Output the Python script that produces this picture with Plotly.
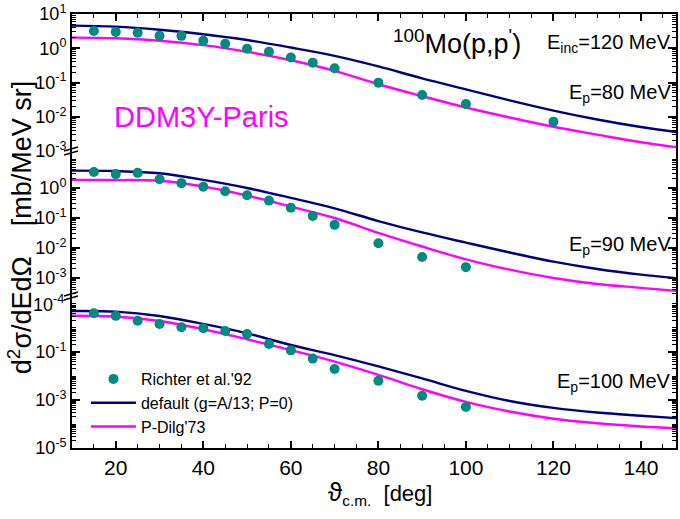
import numpy as np
import plotly.graph_objects as go

# ---------------- data ----------------
theta_curve = [10, 20, 30, 40, 50, 60, 70, 80, 90, 100, 110, 120, 130, 140, 150]

# E_p = 80 MeV
default_80 = [4.57, 4.27, 3.47, 2.57, 1.74, 1.05, 0.60, 0.295, 0.132, 0.063, 0.030, 0.0151, 0.0083, 0.0050, 0.0033]
dilg_80 = [2.04, 1.95, 1.66, 1.23, 0.79, 0.447, 0.219, 0.089, 0.040, 0.0186, 0.0095, 0.0051, 0.0030, 0.0018, 0.0012]
theta_exp_80 = [15, 20, 25, 30, 35, 40, 45, 50, 55, 60, 65, 70, 80, 90, 100, 120]
exp_80 = [3.2, 3.0, 2.85, 2.3, 2.3, 1.65, 1.35, 0.97, 0.79, 0.54, 0.38, 0.26, 0.099, 0.043, 0.0235, 0.0072]

# E_p = 90 MeV
default_90 = [3.80, 3.67, 3.09, 1.86, 1.0, 0.468, 0.209, 0.079, 0.033, 0.0151, 0.0071, 0.0035, 0.0020, 0.0013, 0.00093]
dilg_90 = [1.86, 1.84, 1.74, 1.12, 0.56, 0.24, 0.10, 0.032, 0.0112, 0.0042, 0.0019, 0.0010, 0.00063, 0.00047, 0.00035]
theta_exp_90 = [15, 20, 25, 30, 35, 40, 45, 50, 55, 60, 65, 70, 80, 90, 100]
exp_90 = [3.4, 2.9, 3.2, 1.95, 1.45, 1.1, 0.78, 0.57, 0.38, 0.22, 0.117, 0.059, 0.0144, 0.005, 0.0023]

# E_p = 100 MeV
default_100 = [5.1, 4.8, 3.16, 1.48, 0.60, 0.195, 0.074, 0.025, 0.0079, 0.0024, 0.00091, 0.00047, 0.00030, 0.00022, 0.000166]
dilg_100 = [3.24, 2.95, 1.95, 0.89, 0.34, 0.12, 0.040, 0.0112, 0.0028, 0.00083, 0.00033, 0.000166, 0.000107, 0.000079, 0.000063]
theta_exp_100 = [15, 20, 25, 30, 35, 40, 45, 50, 55, 60, 65, 70, 80, 90, 100]
exp_100 = [4.1, 3.2, 2.0, 1.47, 1.07, 0.98, 0.75, 0.56, 0.215, 0.117, 0.053, 0.0195, 0.0063, 0.0015, 0.00051]

# ---------------- styling ----------------
FONT = "Liberation Sans, Arial, sans-serif"
C_EXP = "#008b80"
C_DEF = "#000080"
C_DILG = "#ff00ff"
LW = 2.4

W, H = 680, 519
ML, MR, MT, MB = 72, 2, 14, 71
plot_w = W - ML - MR
plot_h = H - MT - MB


def frac(ypix):
    return (H - MB - ypix) / plot_h


def xfrac(xpix):
    return (xpix - ML) / plot_w


y_break1 = 151
y_break2 = 296
dom_top = [frac(y_break1), 1.0]
dom_mid = [frac(y_break2), frac(y_break1)]
dom_bot = [0.0, frac(y_break2)]

fig = go.Figure()

panels = [
    # (yaxis id, xaxis id, default, dilg, theta_exp, exp)
    ("y3", "x3", default_80, dilg_80, theta_exp_80, exp_80),
    ("y2", "x2", default_90, dilg_90, theta_exp_90, exp_90),
    ("y", "x", default_100, dilg_100, theta_exp_100, exp_100),
]

for ya, xa, dfl, dlg, tx, ex in panels:
    last = (ya == "y")
    fig.add_trace(go.Scatter(x=theta_curve, y=dfl, mode="lines", line=dict(color=C_DEF, width=LW, shape="spline"),
                             xaxis=xa, yaxis=ya, name="default (g=A/13; P=0)", legendgroup="def",
                             showlegend=last, legendrank=2))
    fig.add_trace(go.Scatter(x=theta_curve, y=dlg, mode="lines", line=dict(color=C_DILG, width=LW, shape="spline"),
                             xaxis=xa, yaxis=ya, name="P-Dilg'73", legendgroup="dilg",
                             showlegend=last, legendrank=3))
    fig.add_trace(go.Scatter(x=tx, y=ex, mode="markers", marker=dict(color=C_EXP, size=10),
                             xaxis=xa, yaxis=ya, name="Richter et al.'92", legendgroup="exp",
                             showlegend=last, legendrank=1))


def minor_vals(lo, hi):
    vals = []
    for d in range(int(np.floor(lo)), int(np.ceil(hi)) + 1):
        for m in range(2, 10):
            v = m * 10.0 ** d
            if lo <= np.log10(v) <= hi:
                vals.append(v)
    return vals


def yax(domain, rng, tickvals, ticktext, every_other=False):
    mv = minor_vals(rng[0], rng[1])
    if every_other:
        # unlabelled decades are drawn as minor ticks
        mv += [10.0 ** d for d in range(int(np.ceil(rng[0])), int(np.floor(rng[1])) + 1)
               if 10.0 ** d not in tickvals]
    return dict(
        type="log", domain=domain, range=rng, tickmode="array", tickvals=tickvals, ticktext=ticktext,
        showline=True, linecolor="black", linewidth=2, mirror="ticks", ticks="inside", ticklen=8,
        tickwidth=1.5, tickcolor="black", showgrid=False, zeroline=False,
        tickfont=dict(family=FONT, size=18, color="black"),
        minor=dict(tickmode="array", tickvals=mv, ticks="inside", ticklen=4, tickwidth=1, tickcolor="black",
                   showgrid=False),
    )


def sup(e):
    return "10<sup>%d</sup>" % e


x_ticks = [20, 40, 60, 80, 100, 120, 140]

fig.update_layout(
    width=W, height=H,
    margin=dict(l=ML, r=MR, t=MT, b=MB),
    paper_bgcolor="white", plot_bgcolor="white",
    font=dict(family=FONT, color="black"),
    showlegend=True,
    legend=dict(x=xfrac(86), y=frac(362), xanchor="left", yanchor="top", bgcolor="rgba(0,0,0,0)",
                font=dict(family=FONT, size=16, color="black"), tracegroupgap=0, itemwidth=45),
    yaxis3=yax(dom_top, [-3, 1], [10.0 ** e for e in range(-3, 2)], [sup(e) for e in range(-3, 2)]),
    yaxis2=yax(dom_mid, [-3.6, 1.233], [10.0 ** e for e in range(-3, 1)], [sup(e) for e in range(-3, 1)]),
    yaxis=yax(dom_bot, [-5, 1.333], [1e-5, 1e-3, 1e-1], [sup(-5), sup(-3), sup(-1)], every_other=True),
    xaxis=dict(range=[10, 148], anchor="y", showline=True, linecolor="black", linewidth=2, ticks="inside",
               ticklen=7, tickwidth=1.5, tickcolor="black", tickvals=x_ticks,
               tickfont=dict(family=FONT, size=21, color="black"), showgrid=False, zeroline=False,
               minor=dict(dtick=5, ticks="inside", ticklen=4, tickwidth=1, tickcolor="black", showgrid=False)),
    xaxis2=dict(range=[10, 148], anchor="y2", matches="x", visible=False),
    xaxis3=dict(range=[10, 148], anchor="y3", matches="x", side="top", showline=True, linecolor="black",
                linewidth=2, ticks="inside", ticklen=7, tickwidth=1.5, tickcolor="black",
                tickvals=x_ticks, showticklabels=False, showgrid=False, zeroline=False,
                minor=dict(dtick=5, ticks="inside", ticklen=4, tickwidth=1, tickcolor="black", showgrid=False)),
)

# axis breaks on the left frame
for yb in (y_break1, y_break2):
    for off in (-2, 2):
        fig.add_shape(type="line", xref="paper", yref="paper",
                      x0=-8 / plot_w, x1=6 / plot_w,
                      y0=frac(yb + off + 2), y1=frac(yb + off - 2),
                      line=dict(color="black", width=1.5))

# labels inside the panels
ann = [
    dict(x=xfrac(202), y=frac(117), text="DDM3Y-Paris", size=29, color=C_DILG, xanchor="center"),
    dict(x=xfrac(524), y=frac(42), text="<sup>100</sup>Mo(p,p<sup>'</sup>)", size=27, color="black", xanchor="right"),
    dict(x=0.995, y=frac(43), text="E<sub>inc</sub>=120 MeV", size=20, color="black", xanchor="right"),
    dict(x=0.995, y=frac(93), text="E<sub>p</sub>=80 MeV", size=20, color="black", xanchor="right"),
    dict(x=0.995, y=frac(245), text="E<sub>p</sub>=90 MeV", size=20, color="black", xanchor="right"),
    dict(x=0.995, y=frac(382), text="E<sub>p</sub>=100 MeV", size=20, color="black", xanchor="right"),
]
for a in ann:
    fig.add_annotation(x=a["x"], y=a["y"], xref="paper", yref="paper", text=a["text"], showarrow=False,
                       xanchor=a["xanchor"], yanchor="middle",
                       font=dict(family=FONT, size=a["size"], color=a["color"]))

# 10^-4 label at the lower break
fig.add_annotation(x=0, y=frac(303), xref="paper", yref="paper", text=sup(-4), showarrow=False,
                   xanchor="right", yanchor="middle", xshift=-6, font=dict(family=FONT, size=18, color="black"))

# axis titles
fig.add_annotation(x=xfrac(20), y=frac(228), xref="paper", yref="paper",
                   text="d<sup>2</sup>\u03c3/dEd\u03a9\u00a0\u00a0\u00a0\u00a0[mb/MeV sr]", showarrow=False,
                   textangle=-90, xanchor="center", yanchor="middle",
                   font=dict(family=FONT, size=27, color="black"))
fig.add_annotation(x=xfrac(381), y=frac(493), xref="paper", yref="paper",
                   text="<span style='font-size:26px'>\u03d1</span><sub>c.m.</sub>  [deg]", showarrow=False,
                   xanchor="center", yanchor="middle", font=dict(family=FONT, size=22, color="black"))

fig.write_html("out.html")
